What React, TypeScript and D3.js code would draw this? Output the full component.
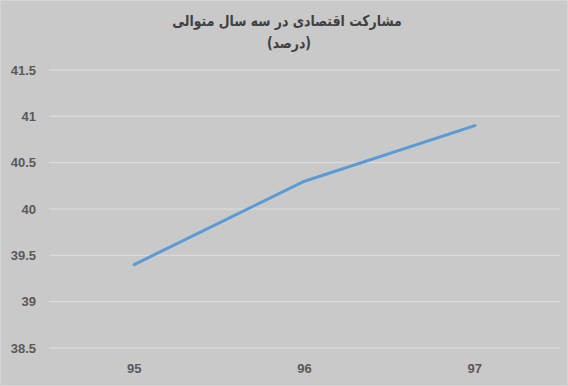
import React from "react";
import * as d3 from "d3";

const categories = ["95", "96", "97"];
const values = [39.4, 40.3, 40.9];
const yTicks = [38.5, 39, 39.5, 40, 40.5, 41, 41.5];
const titleLines = ["مشارکت اقتصادی در سه سال متوالی", "(درصد)"];

const W = 568;
const H = 386;
const left = 49;
const right = 560;
const top = 70;
const bottom = 348;

export default function App() {
  const x = d3.scaleBand().domain(categories).range([left, right]);
  const y = d3.scaleLinear().domain([38.5, 41.5]).range([bottom, top]);
  const line = d3
    .line<number>()
    .x((_, i) => (x(categories[i]) as number) + x.bandwidth() / 2)
    .y((d) => y(d));

  return (
    <svg
      width={W}
      height={H}
      style={{ position: "absolute", left: 0, top: 0, display: "block" }}
    >
      <rect x={0} y={0} width={W} height={H} fill="#c9c9c9" />
      <rect x={0.5} y={0.5} width={W - 1} height={H - 1} fill="none" stroke="#d4d4d4" strokeWidth={1} />
      {yTicks.map((t) => (
        <g key={t}>
          <line
            x1={left}
            x2={right}
            y1={y(t)}
            y2={y(t)}
            stroke="#dedede"
            strokeWidth={1}
          />
          <text
            x={36}
            y={y(t)}
            dy="0.35em"
            textAnchor="end"
            fontFamily="Liberation Sans, Arial, sans-serif"
            fontWeight="bold"
            fontSize={13}
            fill="#595959"
          >
            {t}
          </text>
        </g>
      ))}
      {categories.map((c) => (
        <text
          key={c}
          x={(x(c) as number) + x.bandwidth() / 2}
          y={373}
          textAnchor="middle"
          fontFamily="Liberation Sans, Arial, sans-serif"
          fontWeight="bold"
          fontSize={13}
          fill="#595959"
        >
          {c}
        </text>
      ))}
      <path
        d={line(values) || ""}
        fill="none"
        stroke="#5b9bd5"
        strokeWidth={3}
        strokeLinecap="round"
        strokeLinejoin="round"
      />
      {titleLines.map((t, i) => (
        <text
          key={i}
          transform={`translate(${i === 0 ? 287 : 289},${26 + i * 22}) scale(0.83,1)`}
          textAnchor="middle"
          direction="rtl"
          fontFamily="DejaVu Sans, sans-serif"
          fontWeight="bold"
          fontSize={15}
          fill="#404040"
        >
          {t}
        </text>
      ))}
    </svg>
  );
}
